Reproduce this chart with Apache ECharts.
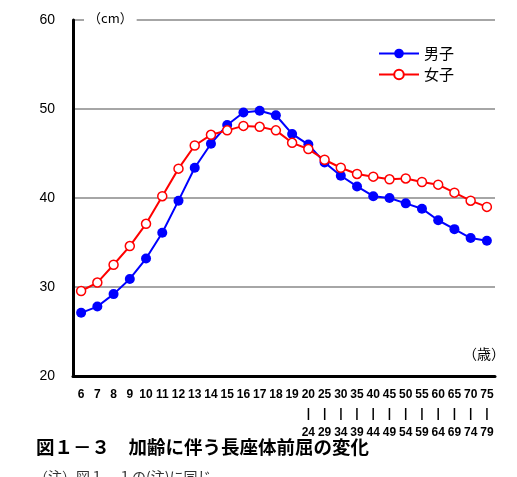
<!DOCTYPE html>
<html>
<head>
<meta charset="utf-8">
<script src="https://cdn.jsdelivr.net/npm/echarts@6/dist/echarts.min.js"></script>
<style>
  html, body { margin: 0; padding: 0; background: #fff; }
  #main { width: 517px; height: 477px; }
</style>
</head>
<body>
<div id="main"></div>
<script>
    var ages = ['6', '7', '8', '9', '10', '11', '12', '13', '14', '15', '16', '17', '18', '19',
        '20\n|\n24', '25\n|\n29', '30\n|\n34', '35\n|\n39', '40\n|\n44', '45\n|\n49',
        '50\n|\n54', '55\n|\n59', '60\n|\n64', '65\n|\n69', '70\n|\n74', '75\n|\n79'];

    var boys = [27.1, 27.8, 29.2, 30.9, 33.2, 36.1, 39.7, 43.4, 46.1, 48.2, 49.6, 49.8, 49.3, 47.2,
        46.0, 44.0, 42.5, 41.3, 40.2, 40.0, 39.4, 38.8, 37.5, 36.5, 35.5, 35.2];

    var girls = [29.55, 30.5, 32.5, 34.6, 37.1, 40.2, 43.3, 45.9, 47.1, 47.6, 48.1, 48.0, 47.6, 46.2,
        45.5, 44.3, 43.4, 42.7, 42.4, 42.1, 42.2, 41.8, 41.5, 40.6, 39.7, 39.0];

    var dom = document.getElementById('main');
    var myChart = echarts.init(dom, null, { renderer: 'canvas' });

    var jp = '"Noto Sans CJK JP", sans-serif';
    var num = '"Liberation Sans", Arial, sans-serif';

    var option = {
        animation: false,
        backgroundColor: '#fff',
        grid: { left: 73, right: 22, top: 20, bottom: 101, containLabel: false },
        legend: {
            orient: 'vertical',
            left: 373,
            top: 41,
            itemWidth: 40,
            itemHeight: 12,
            itemGap: 6,
            textStyle: { fontFamily: jp, fontSize: 15, color: '#000' },
            data: ['男子', '女子']
        },
        xAxis: {
            type: 'category',
            data: ages,
            boundaryGap: true,
            axisLine: { lineStyle: { color: '#000', width: 3 } },
            axisTick: { inside: true, length: 4, lineStyle: { color: '#000', width: 1.5 } },
            axisLabel: {
                interval: 0,
                margin: 9,
                fontFamily: num,
                fontSize: 12,
                fontWeight: 'bold',
                color: '#000',
                lineHeight: 19
            }
        },
        yAxis: {
            type: 'value',
            min: 20,
            max: 60,
            interval: 10,
            axisLine: { show: true, lineStyle: { color: '#000', width: 3 } },
            axisTick: { show: false },
            axisLabel: { margin: 18, fontFamily: num, fontSize: 14, color: '#000' },
            splitLine: { lineStyle: { color: '#888', width: 1.5 } }
        },
        graphic: [
            {
                type: 'text', left: 84, top: 12, z: 100,
                style: {
                    text: '（cm）', fontFamily: jp, fontSize: 13, fill: '#000',
                    backgroundColor: '#fff', padding: [0, 4, 0, 4]
                }
            },
            {
                type: 'text', left: 463, top: 347,
                style: { text: '（歳）', fontFamily: jp, fontSize: 14, fill: '#000' }
            },
            {
                type: 'text', left: 36, top: 438,
                style: { text: '図１－３　加齢に伴う長座体前屈の変化', fontFamily: jp, fontSize: 18.5, fontWeight: 'bold', fill: '#000' }
            },
            {
                type: 'text', left: 34, top: 470,
                style: { text: '（注）図１－１の(注)に同じ。', fontFamily: jp, fontSize: 14, fill: '#333' }
            }
        ],
        series: [
            {
                name: '男子',
                type: 'line',
                data: boys,
                symbol: 'circle',
                symbolSize: 10,
                lineStyle: { color: '#0000ff', width: 2 },
                itemStyle: { color: '#0000ff' },
                z: 3
            },
            {
                name: '女子',
                type: 'line',
                data: girls,
                symbol: 'circle',
                symbolSize: 9,
                lineStyle: { color: '#ff0000', width: 2 },
                itemStyle: { color: '#fff', borderColor: '#ff0000', borderWidth: 1.5 },
                z: 4
            }
        ]
    };

    option && myChart.setOption(option);
</script>
</body>
</html>
